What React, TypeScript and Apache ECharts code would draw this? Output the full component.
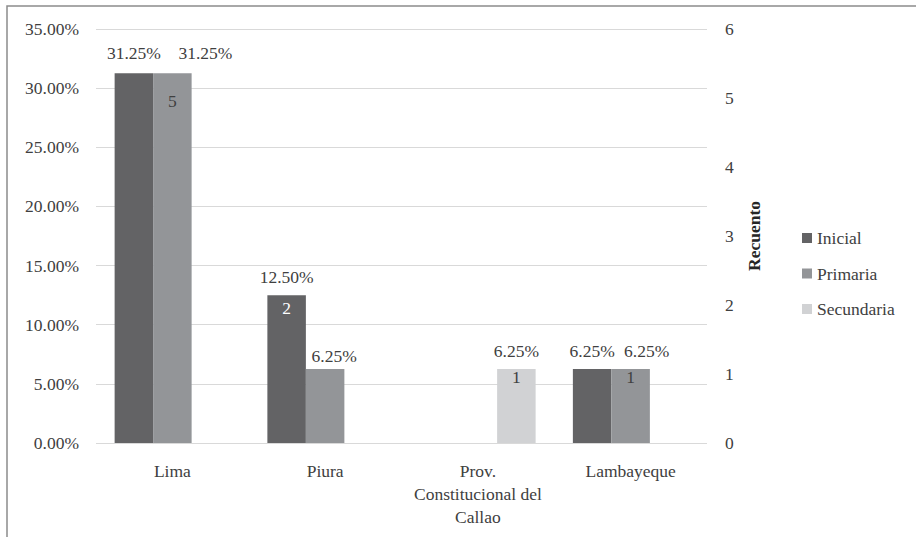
import React, { useEffect, useRef } from "react";
import * as echarts from "echarts";

const categories = ["Lima", "Piura", "Prov.\nConstitucional del\nCallao", "Lambayeque"];
const seriesNames = ["Inicial", "Primaria", "Secundaria"];
const inicialPct = [31.25, 12.5, null, 6.25];
const primariaPct = [31.25, 6.25, null, 6.25];
const secundariaPct = [null, null, 6.25, null];
// Count labels shown (Recuento, secondary axis)
const inicialCount = [null, 2, null, null];
const primariaCount = [5, null, null, 1];
const secundariaCount = [null, null, 1, null];
const pctTicks = { min: 0, max: 35, interval: 5 };
const countTicks = { min: 0, max: 6, interval: 1 };

const colors = ["#636365", "#939598", "#d1d2d4"];
const countTextColors = ["#ffffff", "#404040", "#404040"];
const FONT = "Liberation Serif";
const TEXT = "#404040";
const FS = 17.5;
const txt = (extra: any = {}) => ({ fontFamily: FONT, fontSize: FS, fontWeight: "normal", fontStyle: "normal", color: TEXT, ...extra });
// label nudges (series index -> category index -> [dx, dy]) to mimic the reference's label placement
const labelNudges: Record<number, Record<number, [number, number]>> = {
  0: { 0: [0, -2] },
  1: { 0: [33, -2], 1: [9, 5], 3: [16, 0] },
};

export default function App() {
  const ref = useRef<HTMLDivElement>(null);
  useEffect(() => {
    document.body.style.margin = "0";
    const chart = echarts.init(ref.current!, null, { renderer: "svg" });
    const pcts = [inicialPct, primariaPct, secundariaPct];
    const counts = [inicialCount, primariaCount, secundariaCount];
    const mainSeries = seriesNames.map((name, i) => ({
      name,
      type: "bar",
      xAxisIndex: 0,
      yAxisIndex: 0,
      barWidth: 38.5,
      barGap: "0%",
      itemStyle: { color: colors[i] },
      label: {
        show: true,
        position: "top",
        distance: 9,
        ...txt(),
        formatter: (p: any) => (p.value == null ? "" : Number(p.value).toFixed(2) + "%"),
      },
      data: pcts[i].map((v, j) => {
        if (v == null) return "-";
        const nudge = labelNudges[i] && labelNudges[i][j];
        return nudge ? { value: v, label: { offset: nudge } } : v;
      }),
    }));
    const countSeries = seriesNames.map((name, i) => ({
      name: name + " (recuento)",
      type: "bar",
      xAxisIndex: 1,
      yAxisIndex: 1,
      barWidth: 38.5,
      barGap: "0%",
      itemStyle: { color: "rgba(0,0,0,0)" },
      silent: true,
      label: {
        show: true,
        position: ["50%", 0],
        align: "center",
        verticalAlign: "middle",
        offset: [0, 3],
        ...txt({ color: countTextColors[i] }),
        formatter: (p: any) => (p.value == null ? "" : String(p.value)),
      },
      data: counts[i].map((v) => (v == null ? "-" : v)),
    }));
    chart.setOption({
      animation: false,
      textStyle: txt(),
      graphic: [
        {
          type: "rect",
          shape: { x: 7, y: 6, width: 1000, height: 1000 },
          style: { fill: "none", stroke: "#8c8c8c", lineWidth: 1.5 },
          silent: true,
        },
      ],
      grid: { left: 96, right: 209, top: 29, bottom: 94, containLabel: false },
      legend: {
        orient: "vertical",
        left: 797,
        top: 224,
        itemWidth: 10,
        itemHeight: 10,
        itemGap: 17.5,
        icon: "rect",
        data: seriesNames,
        textStyle: txt(),
      },
      xAxis: [
        {
          type: "category",
          data: categories,
          axisLine: { show: false },
          axisTick: { show: false },
          axisLabel: {
            ...txt(),
            lineHeight: 23,
            margin: 16,
            interval: 0,
          },
        },
        { type: "category", data: categories, show: false },
      ],
      yAxis: [
        {
          type: "value",
          ...pctTicks,
          axisLine: { show: false },
          axisTick: { show: false },
          splitLine: { lineStyle: { color: "#d9d9d9", width: 1 } },
          axisLabel: {
            ...txt(),
            margin: 17,
            formatter: (v: number) => v.toFixed(2) + "%",
          },
        },
        {
          type: "value",
          ...countTicks,
          name: "Recuento",
          nameLocation: "middle",
          nameRotate: 90,
          nameGap: 38,
          nameTextStyle: txt({ fontWeight: "bold", color: "#262626" }),
          axisLine: { show: false },
          axisTick: { show: false },
          splitLine: { show: false },
          axisLabel: { ...txt(), margin: 18 },
        },
      ],
      series: [...mainSeries, ...countSeries],
    });
    return () => chart.dispose();
  }, []);
  return <div ref={ref} style={{ width: 916, height: 537 }} />;
}
